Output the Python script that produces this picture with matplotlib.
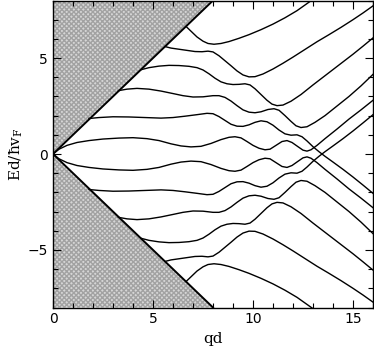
import matplotlib
matplotlib.use("Agg")
import matplotlib.pyplot as plt
from matplotlib.ticker import MultipleLocator

# ---- data (upper-half bands; lower half is the mirror image) ----
band_A_q = [6.65, 6.9, 7.2, 7.5, 7.75, 8.05, 8.4, 8.8, 9.3, 9.8, 10.4, 11.0, 11.6, 12.2, 12.85, 13.0]
band_A_E = [6.65, 6.4, 6.1, 5.88, 5.76, 5.72, 5.76, 5.86, 6.03, 6.22, 6.48, 6.77, 7.1, 7.47, 7.95, 8.06]

band_B_q = [5.6, 5.9, 6.3, 6.7, 7.1, 7.45, 7.75, 8.0, 8.3, 8.6, 8.9, 9.2, 9.5, 9.8, 10.1, 10.5,
            11.0, 11.5, 12.0, 12.6, 13.2, 13.8, 14.4, 15.0, 15.5, 16.0]
band_B_E = [5.6, 5.52, 5.46, 5.4, 5.34, 5.33, 5.36, 5.32, 5.12, 4.86, 4.6, 4.33, 4.12, 4.02, 4.03, 4.17,
            4.43, 4.73, 5.05, 5.45, 5.85, 6.22, 6.6, 7.0, 7.35, 7.72]

band_C_q = [4.43, 4.8, 5.3, 5.8, 6.3, 6.8, 7.2, 7.5, 7.8, 8.1, 8.4, 8.7, 9.0, 9.3, 9.6, 9.85, 10.1,
            10.4, 10.7, 10.95, 11.2, 11.5, 11.9, 12.4, 13.0, 13.5, 14.0, 14.5, 15.0, 15.5, 16.0]
band_C_E = [4.4, 4.5, 4.58, 4.62, 4.61, 4.57, 4.5, 4.38, 4.18, 3.95, 3.76, 3.66, 3.62, 3.63, 3.66, 3.6, 3.4,
            3.1, 2.8, 2.6, 2.52, 2.55, 2.75, 3.1, 3.6, 4.0, 4.4, 4.8, 5.2, 5.62, 6.05]

band_D_q = [3.27, 3.7, 4.2, 4.8, 5.4, 6.0, 6.5, 7.0, 7.5, 8.0, 8.3, 8.6, 8.9, 9.2, 9.5, 9.8, 10.1, 10.4,
            10.75, 11.05, 11.3, 11.6, 11.9, 12.15, 12.4, 12.7, 13.1, 13.6, 14.2, 14.8, 15.4, 16.0]
band_D_E = [3.3, 3.38, 3.42, 3.38, 3.28, 3.15, 3.04, 2.97, 2.98, 3.04, 3.04, 2.95, 2.76, 2.52, 2.3, 2.18, 2.15, 2.2,
            2.32, 2.36, 2.28, 2.0, 1.7, 1.47, 1.38, 1.42, 1.65, 2.0, 2.5, 3.0, 3.55, 4.15]

band_E_q = [1.8, 2.3, 3.0, 3.8, 4.6, 5.4, 6.0, 6.6, 7.2, 7.7, 8.0, 8.3, 8.6, 8.9, 9.2, 9.5, 9.8, 10.1,
            10.4, 10.7, 11.0, 11.3, 11.6, 11.9, 12.2, 12.45, 12.7, 13.0, 13.3, 13.6, 14.0, 14.5, 15.0, 15.5, 16.0]
band_E_E = [1.85, 1.9, 1.94, 1.93, 1.9, 1.87, 1.9, 1.97, 2.05, 2.12, 2.1, 1.95, 1.75, 1.55, 1.45, 1.44, 1.52, 1.65,
            1.73, 1.68, 1.5, 1.25, 1.05, 0.98, 1.0, 0.9, 0.68, 0.38, 0.12, -0.12, -0.42, -0.8, -1.2, -1.62, -2.05]

band_F_q = [0.0, 0.3, 0.7, 1.2, 1.8, 2.5, 3.3, 4.0, 4.7, 5.3, 5.9, 6.4, 6.9, 7.4, 7.9, 8.4, 8.8, 9.1, 9.4,
            9.7, 10.0, 10.3, 10.6, 10.85, 11.15, 11.45, 11.7, 11.95, 12.25, 12.5, 12.7, 12.9, 13.2, 13.6,
            14.2, 14.8, 15.4, 16.0]
band_F_E = [0.0, 0.25, 0.45, 0.6, 0.7, 0.78, 0.83, 0.85, 0.8, 0.7, 0.53, 0.42, 0.37, 0.4, 0.55, 0.75, 0.87, 0.9, 0.84,
            0.65, 0.45, 0.3, 0.22, 0.25, 0.45, 0.65, 0.7, 0.6, 0.38, 0.2, 0.15, 0.22, 0.45, 0.8,
            1.3, 1.82, 2.3, 2.8]

upper_bands = [(band_A_q, band_A_E), (band_B_q, band_B_E), (band_C_q, band_C_E),
               (band_D_q, band_D_E), (band_E_q, band_E_E), (band_F_q, band_F_E)]

cone_q = [0.0, 8.0]
q_max = 16
E_max = 8

x_ticks = [0, 5, 10, 15]
y_ticks = [-5, 0, 5]
y_tick_labels = ["\u22125", "0", "5"]

# ---- figure ----
fig = plt.figure(figsize=(3.74, 3.49), dpi=100)
ax = fig.add_axes([53 / 374, 41.5 / 349, 320 / 374, 307 / 349])

# hatched forbidden region |E| > q
poly_q = [0, cone_q[1], 0, cone_q[1], 0]
poly_E = [E_max, E_max, 0, -E_max, -E_max]
ax.fill(poly_q, poly_E, facecolor="#d6d6d6", edgecolor="#a2a2a2",
        hatch="xxxxxxx", linewidth=0, zorder=1)
ax.plot(cone_q, cone_q, color="black", lw=1.4, zorder=3)
ax.plot(cone_q, [-v for v in cone_q], color="black", lw=1.4, zorder=3)

for q, E in upper_bands:
    ax.plot(q, E, color="black", lw=1.0, zorder=2)
    ax.plot(q, [-v for v in E], color="black", lw=1.0, zorder=2)

ax.set_xlim(0, q_max)
ax.set_ylim(-E_max, E_max)
ax.set_xticks(x_ticks)
ax.set_yticks(y_ticks)
ax.set_yticklabels(y_tick_labels)
ax.xaxis.set_minor_locator(MultipleLocator(1))
ax.yaxis.set_minor_locator(MultipleLocator(1))
ax.tick_params(which="both", direction="in", top=True, right=True, width=0.8)
ax.tick_params(which="major", length=6, labelsize=10)
ax.tick_params(which="minor", length=3.5)
for s in ax.spines.values():
    s.set_linewidth(1.0)

ax.set_xlabel("qd", family="DejaVu Serif", fontsize=11, labelpad=4)
ax.set_ylabel("Ed/\u0127v$_\\mathregular{F}$", family="DejaVu Serif", fontsize=11, labelpad=2)

fig.savefig("out.png", dpi=100)
